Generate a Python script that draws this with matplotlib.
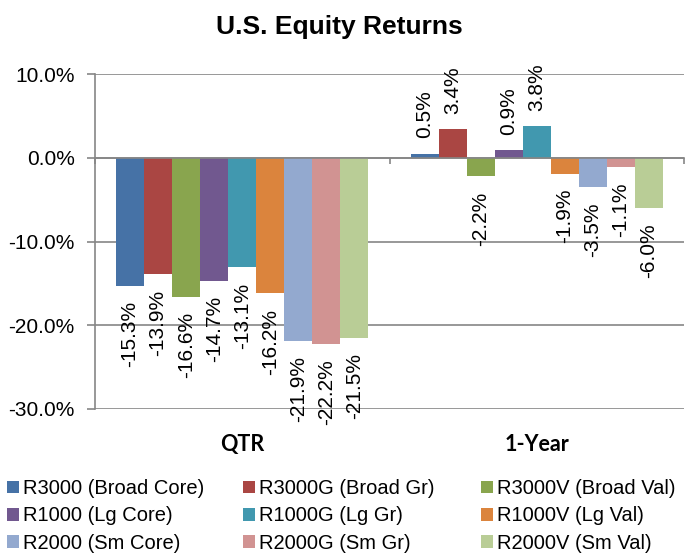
import matplotlib
matplotlib.use("Agg")
import matplotlib.pyplot as plt
import matplotlib.transforms as mtransforms
from matplotlib.patches import Patch
import numpy as np

plt.rcParams['font.family'] = ['Liberation Sans', 'DejaVu Sans']

title = "U.S. Equity Returns"
categories = ["QTR", "1-Year"]
series = ["R3000 (Broad Core)", "R3000G (Broad Gr)", "R3000V (Broad Val)",
          "R1000 (Lg Core)", "R1000G (Lg Gr)", "R1000V (Lg Val)",
          "R2000 (Sm Core)", "R2000G (Sm Gr)", "R2000V (Sm Val)"]
qtr = [-15.3, -13.9, -16.6, -14.7, -13.1, -16.2, -21.9, -22.2, -21.5]
one_year = [0.5, 3.4, -2.2, 0.9, 3.8, -1.9, -3.5, -1.1, -6.0]
colors = ["#4672A6", "#AA4643", "#89A54E", "#71588F", "#4198AF",
          "#DB843D", "#93A9CF", "#D19392", "#B9CD96"]
yticks = [-30, -20, -10, 0, 10]

values = np.array([qtr, one_year])  # shape (categories, series)

fig = plt.figure(figsize=(6.86, 5.55), dpi=100)
ax = fig.add_axes([95/686, 1-409/555, (684-95)/686, (409-74)/555])

n = len(series)
group = n + 1.5
bw = 1.0 / group
x = np.arange(len(categories))
grid_c = "#868686"

for i in range(n):
    pos = x - 0.5 + (0.75 + i + 0.5) * bw
    vals = values[:, i]
    ax.bar(pos, vals, width=bw, color=colors[i], edgecolor='none', zorder=3, label=series[i])
    for p, v in zip(pos, vals):
        off = 11 if v >= 0 else -11
        ax.annotate(f"{v:.1f}%", (p, v), xytext=(0, off), textcoords='offset points',
                    rotation=90, ha='center', va='bottom' if v >= 0 else 'top',
                    fontsize=15, color='black', zorder=4,
                    annotation_clip=False)

ax.set_xlim(-0.5, len(categories) - 0.5)
ax.set_ylim(yticks[0], yticks[-1])
ax.set_yticks(yticks)
ax.set_yticklabels([f"{t:.1f}%" for t in yticks], fontsize=15)
ax.yaxis.grid(True, color=grid_c, linewidth=1.2, zorder=0)
ax.tick_params(axis='y', length=5.5, width=1.2, color=grid_c, pad=9)

for s in ['top', 'right']:
    ax.spines[s].set_visible(False)
ax.spines['left'].set_color(grid_c)
ax.spines['left'].set_linewidth(1.2)
ax.spines['bottom'].set_position(('data', 0))
ax.spines['bottom'].set_color(grid_c)
ax.spines['bottom'].set_linewidth(1.2)
ax.spines['bottom'].set_zorder(5)
ax.set_xticks(np.arange(len(categories) + 1) - 0.5)
ax.set_xticklabels([])
ax.tick_params(axis='x', length=4, width=1.2, color=grid_c, direction='out')

trans = mtransforms.blended_transform_factory(ax.transData, ax.transAxes)
for xi, c in zip(x, categories):
    ax.text(xi, -0.107, c, transform=trans, ha='center', va='center',
            fontsize=15.5, fontweight='bold', family=['Lato', 'DejaVu Sans'])

fig.text(339/686, 1-27/555, title, ha='center', va='center', fontsize=19, fontweight='bold')

col_x = [7, 243, 481]
for c in range(3):
    idx = [c, c + 3, c + 6]
    handles = [Patch(facecolor=colors[i], edgecolor='none') for i in idx]
    labels = [series[i] for i in idx]
    leg = fig.legend(handles, labels, ncol=1, loc='upper left',
                     bbox_to_anchor=(col_x[c]/686, 1-479/555),
                     frameon=False, fontsize=14.5, handlelength=0.6, handleheight=0.6,
                     handletextpad=0.17, labelspacing=0.42,
                     borderpad=0, borderaxespad=0)

fig.savefig("out.png", dpi=100)
